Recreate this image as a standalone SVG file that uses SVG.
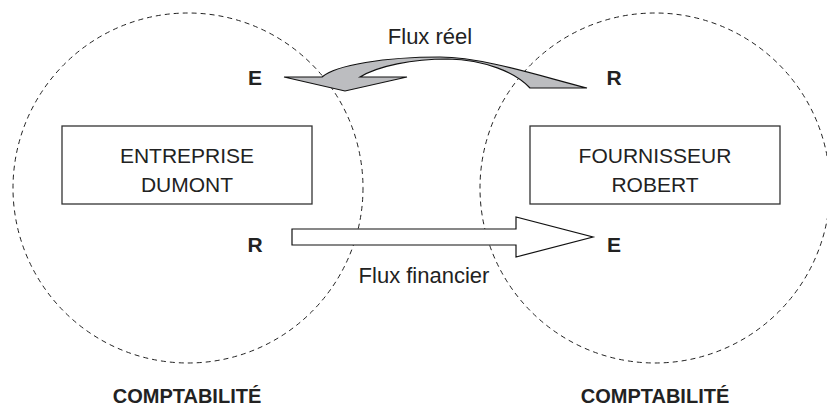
<svg xmlns="http://www.w3.org/2000/svg" width="827" height="408" viewBox="0 0 827 408">
<style>
.circ{fill:none;stroke:#222;stroke-width:1;stroke-dasharray:5 4}
.box{fill:#fff;stroke:#333;stroke-width:1.3}
.t{font-family:"Liberation Sans",Arial,sans-serif;font-size:21px;fill:#222;text-anchor:middle}
.f{font-family:"Liberation Sans",Arial,sans-serif;font-size:22px;fill:#222;text-anchor:middle}
.b{font-family:"Liberation Sans",Arial,sans-serif;font-size:20px;font-weight:bold;fill:#222;text-anchor:middle}
.l{font-family:"Liberation Sans",Arial,sans-serif;font-size:21px;font-weight:bold;fill:#222;text-anchor:middle}
.arr{stroke:#111;stroke-width:1.2;stroke-linejoin:miter}
</style>
<rect width="827" height="408" fill="#fff"/>
<g id="zone-left">
<circle class="circ" cx="188" cy="188" r="175"/>
<text class="b" x="187" y="403">COMPTABILITÉ</text>
</g>
<g id="zone-right">
<circle class="circ" cx="655" cy="188" r="175"/>
<text class="b" x="655" y="403">COMPTABILITÉ</text>
</g>
<g id="entreprise">
<rect class="box" x="62" y="126" width="250" height="78"/>
<text class="t" x="187" y="163">ENTREPRISE</text>
<text class="t" x="187" y="192">DUMONT</text>
<text class="l" x="255" y="85">E</text>
<text class="l" x="255" y="252">R</text>
</g>
<g id="fournisseur">
<rect class="box" x="530" y="126" width="250" height="78"/>
<text class="t" x="655" y="163">FOURNISSEUR</text>
<text class="t" x="655" y="192">ROBERT</text>
<text class="l" x="614" y="85">R</text>
<text class="l" x="614" y="252">E</text>
</g>
<g id="connectors">
<path id="flux-reel" class="arr" fill="#bcbdc0" d="M587 88 C540 76 482 57 440 57 C385 57 336 65 322 77 L284 77 L345 91 L407 77 L360 77 C378 66 412 59 448 59 C485 60 515 72 530 88 Z"/>
<text class="f" x="430" y="44">Flux réel</text>
<path id="flux-financier" class="arr" fill="#fff" d="M292 229 L516 229 L516 217 L593 237 L516 257 L516 245 L292 245 Z"/>
<text class="f" x="424" y="283">Flux financier</text>
</g>
</svg>
